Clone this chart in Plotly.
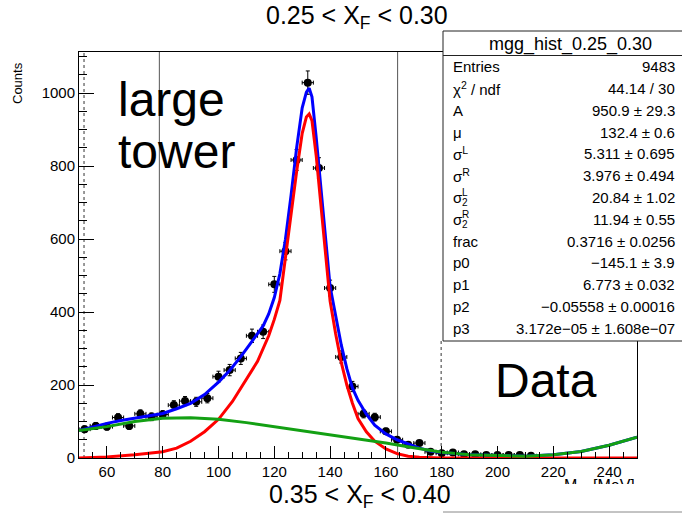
import numpy as np
import plotly.graph_objects as go

# ---------------- data ----------------
bin_centers = [52, 56, 60, 64, 68, 72, 76, 80, 84, 88, 92, 96, 100, 104, 108, 112, 116,
               120, 124, 128, 132, 136, 140, 144, 148, 152, 156, 160, 164, 168, 172, 176,
               180, 184, 188, 192, 196, 200, 204, 208, 212]
counts = [79, 88, 86, 111, 88, 121, 113, 119, 145, 156, 154, 164, 223, 241, 273, 335, 346,
          476, 567, 817, 1029, 795, 466, 277, 196, 121, 112, 73, 50, 36, 41, 17,
          13, 15, 10, 10, 8, 8, 8, 8, 6]
bin_half_width = 2

total_x = [50, 55, 60, 65, 70, 75, 80, 85, 90, 95, 100, 104, 108, 112, 116, 118, 120, 122,
           124, 126, 128, 130, 131.5, 132.5, 133.5, 135, 136.5, 138, 140, 142, 144, 146,
           148, 150, 153, 156, 160, 164, 168, 172, 176, 180, 190, 200, 210, 220, 230, 240, 250]
total_y = [75, 86, 95, 103, 110, 116, 122, 135, 150, 174, 208, 240, 278, 320, 362, 395, 440, 505,
           600, 720, 850, 960, 1003, 1014, 990, 880, 760, 630, 470, 390, 310, 245,
           192, 158, 120, 90, 66, 50, 38, 27, 19, 15, 9, 6, 5, 9, 18, 35, 57]

signal_x = [50, 60, 70, 80, 85, 90, 95, 100, 105, 110, 114, 118, 120, 122, 124, 126, 128, 130,
            131.5, 132.5, 133.5, 135, 136.5, 138, 140, 142, 144, 146, 148, 150, 153, 156,
            160, 164, 168, 172, 180, 250]
signal_y = [0, 3, 9, 17, 27, 46, 72, 106, 155, 215, 265, 335, 380, 432, 550, 670, 785, 890,
            935, 943, 925, 830, 715, 590, 430, 340, 262, 200, 150, 108, 72, 46,
            25, 12, 5, 2, 0, 0]

bkg_x = [50, 60, 70, 80, 90, 100, 110, 120, 130, 140, 150, 160, 170, 180, 190, 200, 210,
         220, 230, 240, 250]
bkg_y = [75, 86, 100, 109, 110, 106, 97, 86, 75, 64, 53, 41, 28, 16, 9, 6, 5, 9, 18, 35, 57]

x_range = [50, 250]
y_range = [0, 1113]

stat_labels = ["Entries", "χ<sup>2</sup> / ndf", "A", "μ", "σ<sup>L</sup>", "σ<sup>R</sup>",
               "σ", "σ", "frac", "p0", "p1", "p2", "p3"]
stat_values = ["9483", "44.14 / 30", "950.9 ± 29.3", "132.4 ± 0.6", "5.311 ± 0.695",
               "3.976 ± 0.494", "20.84 ± 1.02", "11.94 ± 0.55", "0.3716 ± 0.0256",
               "−145.1 ± 3.9", "6.773 ± 0.032", "−0.05558 ± 0.00016",
               "3.172e−05 ± 1.608e−07"]
stats_title = "mgg_hist_0.25_0.30"

# ---------------- layout helpers (pixel -> paper) ----------------
W, H = 682, 514
ML, MR, MT, MB = 79, 45, 52, 56
PW, PH = W - ML - MR, H - MT - MB


def px(x):
    return (x - ML) / PW


def py(y):
    return (H - MB - y) / PH


FONT = "Liberation Sans, Arial, Helvetica, sans-serif"

fig = go.Figure()

fig.add_trace(go.Scatter(
    x=bin_centers, y=counts, mode="markers",
    marker=dict(color="black", size=8, symbol="circle"),
    error_x=dict(type="constant", value=bin_half_width, color="black", thickness=1, width=2),
    error_y=dict(type="data", array=list(np.sqrt(counts)), color="black", thickness=1, width=2),
    showlegend=False, hoverinfo="skip"))

fig.add_trace(go.Scatter(x=total_x, y=total_y, mode="lines",
                         line=dict(color="#0000ff", width=3), showlegend=False))
fig.add_trace(go.Scatter(x=signal_x, y=signal_y, mode="lines",
                         line=dict(color="#ff0000", width=3), showlegend=False))
fig.add_trace(go.Scatter(x=bkg_x, y=bkg_y, mode="lines",
                         line=dict(color="#13a013", width=3), showlegend=False))

shapes = []
# grey vertical lines
for xv in (78.8, 164.2):
    shapes.append(dict(type="line", xref="x", yref="paper", x0=xv, x1=xv, y0=0, y1=1,
                       line=dict(color="#555555", width=1), layer="below"))
# dotted lines
shapes.append(dict(type="line", xref="x", yref="paper", x0=51.8, x1=51.8, y0=0, y1=1,
                   line=dict(color="#333333", width=1, dash="dot"), layer="below"))
shapes.append(dict(type="line", xref="x", yref="paper", x0=179.8, x1=179.8, y0=0, y1=py(341),
                   line=dict(color="#333333", width=1, dash="dot"), layer="below"))
# stats box
shapes.append(dict(type="rect", xref="paper", yref="paper", x0=px(443), x1=px(720),
                   y0=py(341), y1=py(31), fillcolor="white",
                   line=dict(color="#222222", width=1), layer="above"))
shapes.append(dict(type="line", xref="paper", yref="paper", x0=px(443), x1=px(720),
                   y0=py(55.5), y1=py(55.5), line=dict(color="#222222", width=1), layer="above"))
# next pad stats box edge at bottom
shapes.append(dict(type="line", xref="paper", yref="paper", x0=px(443), x1=px(720),
                   y0=py(512), y1=py(512), line=dict(color="#888888", width=1), layer="above"))

ann = []
# titles
ann.append(dict(text="0.25 < X<sub>F</sub> < 0.30", x=px(357), y=py(17), xref="paper", yref="paper",
                showarrow=False, font=dict(family=FONT, size=25, color="black"),
                xanchor="center", yanchor="middle"))
ann.append(dict(text="0.35 < X<sub>F</sub> < 0.40", x=px(360), y=py(496), xref="paper", yref="paper",
                showarrow=False, font=dict(family=FONT, size=25, color="black"),
                xanchor="center", yanchor="middle"))
# axis titles
ann.append(dict(text="Counts", x=px(18), y=py(83), xref="paper", yref="paper", textangle=-90,
                showarrow=False, font=dict(family=FONT, size=13, color="black"),
                xanchor="center", yanchor="middle"))
ann.append(dict(text="M<sub>γγ</sub> [MeV]", x=px(637), y=py(475), xref="paper", yref="paper",
                showarrow=False, font=dict(family=FONT, size=16, color="black"),
                xanchor="right", yanchor="top", height=7, valign="top"))
# big labels
ann.append(dict(text="large", x=px(116), y=py(99), xref="paper", yref="paper", showarrow=False,
                font=dict(family=FONT, size=48, color="black"), xanchor="left", yanchor="middle"))
ann.append(dict(text="tower", x=px(116), y=py(151), xref="paper", yref="paper", showarrow=False,
                font=dict(family=FONT, size=48, color="black"), xanchor="left", yanchor="middle"))
ann.append(dict(text="Data", x=px(493), y=py(380), xref="paper", yref="paper", showarrow=False,
                font=dict(family=FONT, size=48, color="black"), xanchor="left", yanchor="middle"))
# stats box
ann.append(dict(text=stats_title, x=px(570), y=py(44), xref="paper", yref="paper", showarrow=False,
                font=dict(family=FONT, size=18, color="black"), xanchor="center", yanchor="middle"))
row_y0, row_dy = 66.7, 21.8
for i, (lab, val) in enumerate(zip(stat_labels, stat_values)):
    yy = row_y0 + i * row_dy
    ann.append(dict(text=lab, x=px(451), y=py(yy), xref="paper", yref="paper", showarrow=False,
                    font=dict(family=FONT, size=15, color="black"), xanchor="left", yanchor="middle"))
    ann.append(dict(text=val, x=px(677), y=py(yy), xref="paper", yref="paper", showarrow=False,
                    font=dict(family=FONT, size=15, color="black"), xanchor="right", yanchor="middle"))
# stacked sub/superscripts for sigma_2^L and sigma_2^R
for i, sup in ((6, "L"), (7, "R")):
    yy = row_y0 + i * row_dy
    ann.append(dict(text=sup, x=px(460), y=py(yy - 5), xref="paper", yref="paper", showarrow=False,
                    font=dict(family=FONT, size=10, color="black"), xanchor="left", yanchor="middle"))
    ann.append(dict(text="2", x=px(460), y=py(yy + 5), xref="paper", yref="paper", showarrow=False,
                    font=dict(family=FONT, size=10, color="black"), xanchor="left", yanchor="middle"))

fig.update_layout(
    width=W, height=H,
    margin=dict(l=ML, r=MR, t=MT, b=MB, pad=0),
    paper_bgcolor="white", plot_bgcolor="white",
    showlegend=False,
    shapes=shapes, annotations=ann,
    font=dict(family=FONT, color="black"),
    xaxis=dict(range=x_range, showgrid=False, zeroline=False, showline=True, mirror=True,
               linecolor="black", linewidth=1, ticks="inside", ticklen=12, tickwidth=1,
               tickcolor="black", tick0=0, dtick=20, tickfont=dict(family=FONT, size=15),
               minor=dict(ticks="inside", ticklen=6, dtick=5, tickcolor="black", showgrid=False)),
    yaxis=dict(range=y_range, showgrid=False, zeroline=False, showline=True, mirror=True,
               linecolor="black", linewidth=1, ticks="inside", ticklen=15, tickwidth=1,
               tickcolor="black", tick0=0, dtick=200, tickfont=dict(family=FONT, size=15),
               minor=dict(ticks="inside", ticklen=8, dtick=50, tickcolor="black", showgrid=False)),
)

fig.write_html("out.html")
